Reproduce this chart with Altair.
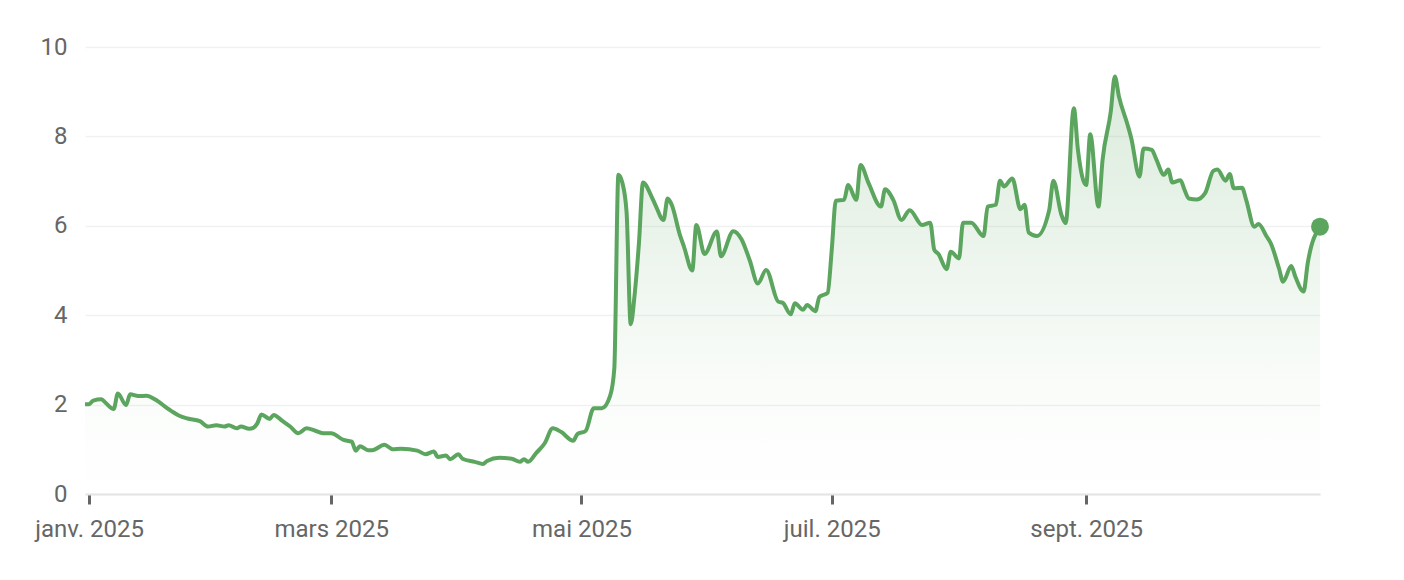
import pandas as pd
import altair as alt

# values
dates = [
    "2024-12-31", "2025-01-01", "2025-01-02", "2025-01-04", "2025-01-05", "2025-01-07",
    "2025-01-08", "2025-01-10", "2025-01-11", "2025-01-13", "2025-01-15", "2025-01-17",
    "2025-01-18", "2025-01-20", "2025-01-21", "2025-01-23", "2025-01-25", "2025-01-28",
    "2025-01-30", "2025-02-01", "2025-02-03", "2025-02-04", "2025-02-06", "2025-02-07",
    "2025-02-09", "2025-02-10", "2025-02-11", "2025-02-12", "2025-02-14", "2025-02-15",
    "2025-02-17", "2025-02-19", "2025-02-21", "2025-02-23", "2025-02-25", "2025-02-27",
    "2025-03-01", "2025-03-04", "2025-03-06", "2025-03-07", "2025-03-08", "2025-03-10",
    "2025-03-11", "2025-03-14", "2025-03-16", "2025-03-18", "2025-03-22", "2025-03-24",
    "2025-03-26", "2025-03-27", "2025-03-29", "2025-03-30", "2025-04-01", "2025-04-02",
    "2025-04-05", "2025-04-07", "2025-04-08", "2025-04-11", "2025-04-14", "2025-04-16",
    "2025-04-17", "2025-04-18", "2025-04-20", "2025-04-22", "2025-04-24", "2025-04-26",
    "2025-04-29", "2025-04-30", "2025-05-02", "2025-05-04", "2025-05-06", "2025-05-08",
    "2025-05-09", "2025-05-10", "2025-05-11", "2025-05-12", "2025-05-13", "2025-05-14",
    "2025-05-15", "2025-05-16", "2025-05-18", "2025-05-19", "2025-05-21", "2025-05-22",
    "2025-05-23", "2025-05-25", "2025-05-26", "2025-05-28", "2025-05-29", "2025-05-31",
    "2025-06-03", "2025-06-04", "2025-06-07", "2025-06-09", "2025-06-11", "2025-06-13",
    "2025-06-15", "2025-06-18", "2025-06-19", "2025-06-21", "2025-06-22", "2025-06-24",
    "2025-06-25", "2025-06-27", "2025-06-28", "2025-06-30", "2025-07-01", "2025-07-02",
    "2025-07-04", "2025-07-05", "2025-07-07", "2025-07-08", "2025-07-10", "2025-07-13",
    "2025-07-14", "2025-07-16", "2025-07-18", "2025-07-20", "2025-07-23", "2025-07-25",
    "2025-07-26", "2025-07-27", "2025-07-29", "2025-07-30", "2025-08-01", "2025-08-02",
    "2025-08-04", "2025-08-07", "2025-08-08", "2025-08-10", "2025-08-11", "2025-08-12",
    "2025-08-14", "2025-08-16", "2025-08-17", "2025-08-18", "2025-08-20", "2025-08-23",
    "2025-08-24", "2025-08-26", "2025-08-27", "2025-08-29", "2025-08-30", "2025-09-01",
    "2025-09-02", "2025-09-04", "2025-09-05", "2025-09-07", "2025-09-08", "2025-09-09",
    "2025-09-11", "2025-09-12", "2025-09-14", "2025-09-15", "2025-09-17", "2025-09-18",
    "2025-09-20", "2025-09-21", "2025-09-22", "2025-09-24", "2025-09-25", "2025-09-26",
    "2025-09-28", "2025-09-30", "2025-10-02", "2025-10-03", "2025-10-05", "2025-10-06",
    "2025-10-07", "2025-10-09", "2025-10-10", "2025-10-12", "2025-10-13", "2025-10-15",
    "2025-10-16", "2025-10-18", "2025-10-19", "2025-10-21", "2025-10-22", "2025-10-24",
    "2025-10-25", "2025-10-28",
]
values = [
    2.01, 2.01, 2.09, 2.12, 2.04, 1.90,
    2.25, 1.99, 2.23, 2.19, 2.20, 2.12,
    2.06, 1.92, 1.86, 1.75, 1.69, 1.63,
    1.51, 1.54, 1.51, 1.54, 1.47, 1.51,
    1.46, 1.48, 1.58, 1.78, 1.68, 1.77,
    1.64, 1.51, 1.36, 1.47, 1.42, 1.36,
    1.36, 1.21, 1.17, 0.97, 1.07, 0.98,
    0.98, 1.10, 1.00, 1.01, 0.97, 0.89,
    0.95, 0.83, 0.86, 0.78, 0.89, 0.79,
    0.72, 0.67, 0.74, 0.81, 0.79, 0.72,
    0.78, 0.72, 0.92, 1.13, 1.47, 1.39,
    1.19, 1.34, 1.41, 1.92, 1.92, 2.20,
    2.80, 7.14, 6.95, 6.30, 3.80, 4.50,
    5.60, 6.97, 6.67, 6.47, 6.13, 6.61,
    6.47, 5.79, 5.53, 5.00, 6.02, 5.37,
    5.87, 5.32, 5.88, 5.70, 5.23, 4.71,
    5.01, 4.30, 4.28, 4.02, 4.27, 4.12,
    4.23, 4.09, 4.41, 4.50, 5.46, 6.56,
    6.58, 6.91, 6.58, 7.36, 6.95, 6.43,
    6.82, 6.58, 6.13, 6.35, 6.02, 6.07,
    5.46, 5.37, 5.03, 5.42, 5.27, 6.07,
    6.07, 5.77, 6.43, 6.47, 7.01, 6.88,
    7.06, 6.37, 6.47, 5.85, 5.77, 6.35,
    7.01, 6.24, 6.06, 8.63, 7.70, 6.91,
    8.05, 6.43, 7.47, 8.55, 9.34, 8.89,
    8.29, 7.96, 7.10, 7.73, 7.70, 7.51,
    7.14, 7.26, 6.97, 7.02, 6.80, 6.61,
    6.59, 6.73, 7.23, 7.26, 7.01, 7.16,
    6.84, 6.85, 6.58, 5.98, 6.04, 5.76,
    5.61, 5.05, 4.75, 5.10, 4.86, 4.53,
    5.16, 5.98,
]
y_ticks = [0, 2, 4, 6, 8, 10]
month_names = ["janv.", "févr.", "mars", "avr.", "mai", "juin",
               "juil.", "août", "sept.", "oct.", "nov.", "déc."]

df = pd.DataFrame({"date": dates, "value": values})
df_last = df.tail(1)

green = "#5ba55f"
font = "Roboto"
label_color = "#666666"

month_array = "[" + ",".join(f"'{m}'" for m in month_names) + "]"
label_expr = month_array + "[month(datum.value)] + ' ' + year(datum.value)"

x = alt.X("date:T", title=None, scale=alt.Scale(nice=False)).axis(
    tickCount={"interval": "month", "step": 2},
    labelExpr=label_expr,
    labelFlush=False,
    labelOverlap=False,
    labelFontSize=24,
    labelFont=font,
    labelColor=label_color,
    labelPadding=13,
    domainColor="#e4e4e4",
    domainWidth=2,
    tickColor="#666666",
    tickWidth=3,
    tickSize=10,
    grid=False,
)
y = alt.Y("value:Q", title=None, scale=alt.Scale(domain=[0, 10], nice=False)).axis(
    values=y_ticks,
    domain=False,
    ticks=False,
    labelFontSize=24,
    labelFont=font,
    labelColor=label_color,
    labelPadding=18,
    gridColor="#f1f1f1",
    gridWidth=1.5,
)

gradient = alt.Gradient(
    gradient="linear",
    stops=[
        alt.GradientStop(color="rgba(91,165,95,0)", offset=0),
        alt.GradientStop(color="rgba(91,165,95,0.03)", offset=0.25),
        alt.GradientStop(color="rgba(91,165,95,0.22)", offset=1),
    ],
    x1=1, x2=1, y1=1, y2=0,
)

base = alt.Chart(df).encode(x=x, y=y)
area = base.mark_area(interpolate="monotone", color=gradient)
line = base.mark_line(interpolate="monotone", color=green, strokeWidth=4)
dot = alt.Chart(df_last).mark_circle(size=320, color=green, opacity=1).encode(x=x, y=y)

chart = (
    (area + line + dot)
    .properties(
        width=1235,
        height=447,
        autosize=alt.AutoSizeParams(type="none"),
        padding={"left": 77, "top": 39, "right": 60, "bottom": 70},
        background="white",
    )
    .configure_view(stroke=None)
)

chart.save("out.html", embed_options={"renderer": "svg", "actions": False})
